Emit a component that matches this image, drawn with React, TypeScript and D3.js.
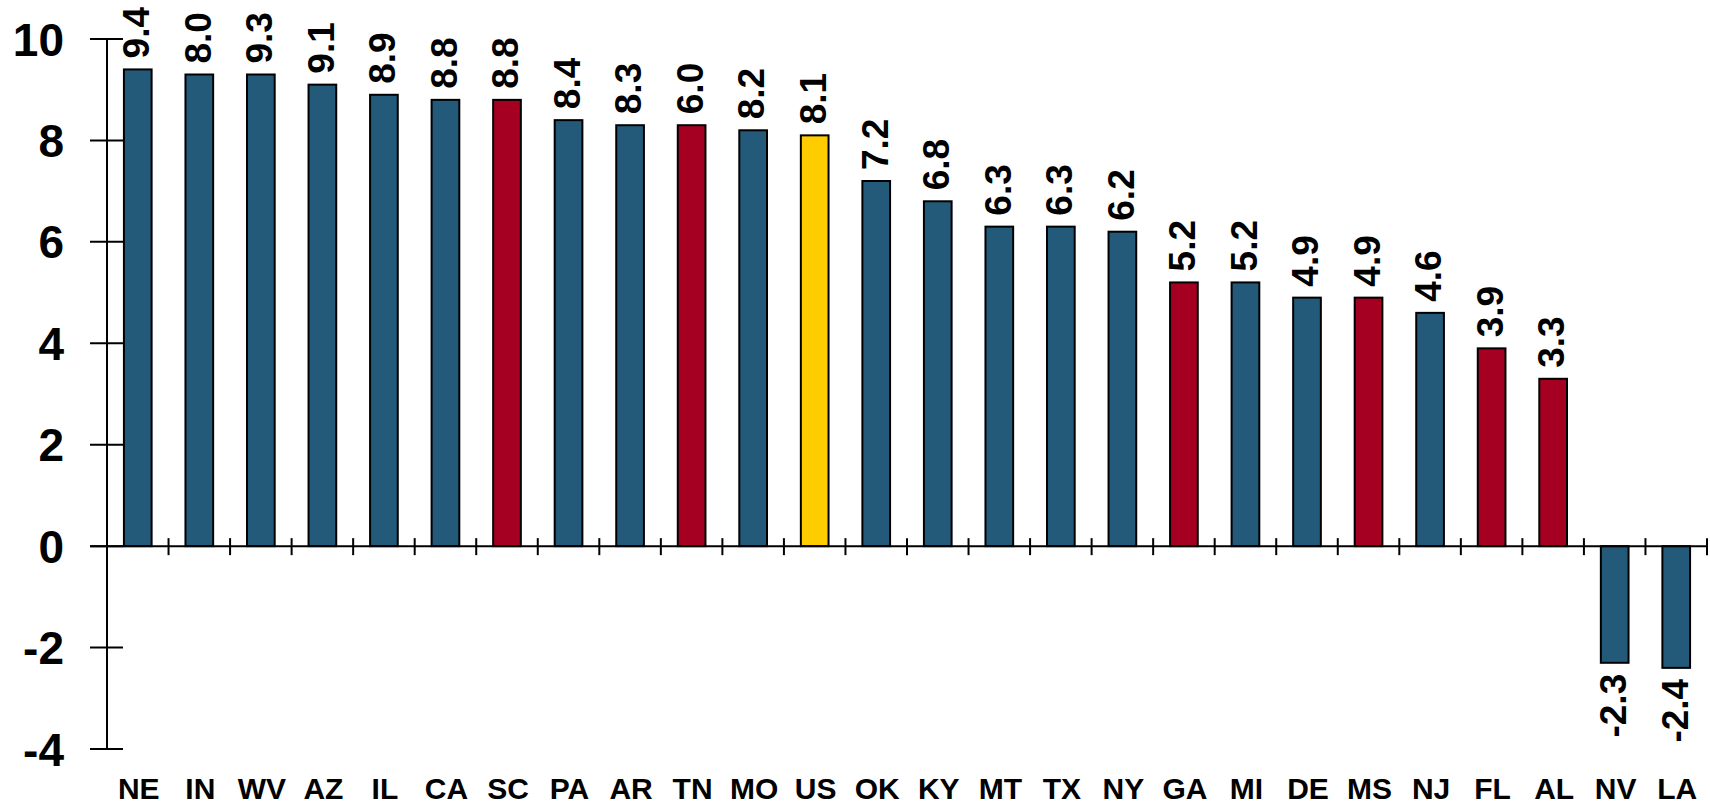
import { useEffect, useRef } from "react";
import * as d3 from "d3";

// states ranked by change; label text as printed on the chart
const states = ["NE", "IN", "WV", "AZ", "IL", "CA", "SC", "PA", "AR", "TN", "MO", "US", "OK", "KY", "MT", "TX", "NY", "GA", "MI", "DE", "MS", "NJ", "FL", "AL", "NV", "LA"];
const values = [9.4, 9.3, 9.3, 9.1, 8.9, 8.8, 8.8, 8.4, 8.3, 8.3, 8.2, 8.1, 7.2, 6.8, 6.3, 6.3, 6.2, 5.2, 5.2, 4.9, 4.9, 4.6, 3.9, 3.3, -2.3, -2.4];
const labels = ["9.4", "8.0", "9.3", "9.1", "8.9", "8.8", "8.8", "8.4", "8.3", "6.0", "8.2", "8.1", "7.2", "6.8", "6.3", "6.3", "6.2", "5.2", "5.2", "4.9", "4.9", "4.6", "3.9", "3.3", "-2.3", "-2.4"];
const groups = ["b", "b", "b", "b", "b", "b", "r", "b", "b", "r", "b", "y", "b", "b", "b", "b", "b", "r", "b", "b", "r", "b", "r", "r", "b", "b"];
const yTicks = [-4, -2, 0, 2, 4, 6, 8, 10];

const colors: Record<string, string> = { b: "#235A7A", r: "#A50021", y: "#FFCC00" };

const W = 1710;
const H = 806;

export default function App() {
  const svgRef = useRef<SVGSVGElement>(null);

  useEffect(() => {
    if (!svgRef.current) return;
    const svg = d3.select(svgRef.current);
    svg.selectAll("*").remove();

    const left = 107;
    const right = 1707;
    const x = d3.scaleBand().domain(states).range([left, right]).padding(0);
    const y = d3.scaleLinear().domain([-4, 10]).range([749, 39]);
    const bw = x.bandwidth() * 0.45;
    const font = "Arial, 'Liberation Sans', sans-serif";

    const data = states.map((s, i) => ({ s, v: values[i], label: labels[i], g: groups[i] }));

    // bars
    svg
      .selectAll(".bar")
      .data(data)
      .enter()
      .append("rect")
      .attr("class", "bar")
      .attr("x", (d) => x(d.s)! + (x.bandwidth() - bw) / 2)
      .attr("y", (d) => (d.v >= 0 ? y(d.v) : y(0)))
      .attr("width", bw)
      .attr("height", (d) => Math.abs(y(d.v) - y(0)))
      .attr("fill", (d) => colors[d.g])
      .attr("stroke", "#000")
      .attr("stroke-width", 2);

    // y axis
    svg
      .append("line")
      .attr("x1", left)
      .attr("x2", left)
      .attr("y1", y(10))
      .attr("y2", y(-4))
      .attr("stroke", "#000")
      .attr("stroke-width", 2);

    svg
      .selectAll(".ytick")
      .data(yTicks)
      .enter()
      .append("line")
      .attr("x1", left - 17)
      .attr("x2", left + 16)
      .attr("y1", (d) => y(d))
      .attr("y2", (d) => y(d))
      .attr("stroke", "#000")
      .attr("stroke-width", 2);

    svg
      .selectAll(".ylabel")
      .data(yTicks)
      .enter()
      .append("text")
      .attr("x", 64)
      .attr("y", (d) => y(d))
      .attr("dy", "0.36em")
      .attr("text-anchor", "end")
      .attr("font-family", font)
      .attr("font-weight", "bold")
      .attr("font-size", 46)
      .text((d) => d);

    // zero line and category ticks
    svg
      .append("line")
      .attr("x1", left - 17)
      .attr("x2", right)
      .attr("y1", y(0))
      .attr("y2", y(0))
      .attr("stroke", "#000")
      .attr("stroke-width", 2);

    svg
      .selectAll(".xtick")
      .data(states)
      .enter()
      .append("line")
      .attr("x1", (d) => x(d)! + x.bandwidth())
      .attr("x2", (d) => x(d)! + x.bandwidth())
      .attr("y1", y(0) - 8)
      .attr("y2", y(0) + 9)
      .attr("stroke", "#000")
      .attr("stroke-width", 2);

    // category labels
    svg
      .selectAll(".xlabel")
      .data(states)
      .enter()
      .append("text")
      .attr("x", (d) => x(d)! + x.bandwidth() / 2 + 1)
      .attr("y", 799)
      .attr("text-anchor", "middle")
      .attr("font-family", font)
      .attr("font-weight", "bold")
      .attr("font-size", 30)
      .text((d) => d);

    // value labels, rotated
    svg
      .selectAll(".vlabel")
      .data(data)
      .enter()
      .append("text")
      .attr("transform", (d) => {
        const cx = x(d.s)! + x.bandwidth() / 2 - 2;
        const cy = d.v >= 0 ? y(d.v) - 11 : y(d.v) + 11;
        return `translate(${cx},${cy}) rotate(-90)`;
      })
      .attr("dy", "0.36em")
      .attr("text-anchor", (d) => (d.v >= 0 ? "start" : "end"))
      .attr("font-family", font)
      .attr("font-weight", "bold")
      .attr("font-size", 37)
      .text((d) => d.label);
  }, []);

  return (
    <svg
      ref={svgRef}
      width={W}
      height={H}
      style={{ position: "absolute", left: 0, top: 0, background: "#fff" }}
    />
  );
}
